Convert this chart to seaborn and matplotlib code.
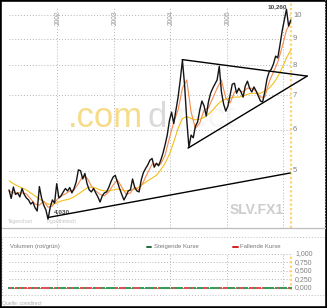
import numpy as np
import pandas as pd
import matplotlib
matplotlib.use("Agg")
import matplotlib.pyplot as plt
import matplotlib.transforms as mtransforms
from matplotlib.patches import Rectangle
from matplotlib.lines import Line2D
from matplotlib.ticker import NullLocator
import seaborn as sns

# ---------------- data ----------------
start_date = "2001-02-25"
price = [4.59, 4.42, 4.65, 4.50, 4.53, 4.45, 4.62, 4.50, 4.43, 4.39,
         4.31, 4.35, 4.24, 4.18, 4.66, 4.43, 4.29, 4.20, 4.03, 4.25,
         4.39, 4.33, 4.72, 4.43, 4.47, 4.55, 4.62, 4.57, 4.64, 4.53,
         4.62, 4.76, 5.02, 5.00, 4.82, 4.94, 4.72, 4.59, 4.55, 4.62,
         4.53, 4.45, 4.35, 4.47, 4.53, 4.55, 4.64, 4.76, 4.86, 4.90,
         4.76, 4.62, 4.50, 4.39, 4.47, 4.57, 4.59, 4.82, 4.64, 4.57,
         4.55, 4.80, 4.96, 5.05, 5.13, 5.24, 5.28, 5.08, 5.17, 5.11,
         5.24, 5.40, 5.61, 5.86, 6.25, 6.49, 6.17, 6.55, 6.94, 7.49,
         8.18, 7.32, 6.27, 5.55, 5.86, 5.79, 6.10, 6.21, 6.55, 6.82,
         6.67, 6.38, 6.79, 7.06, 7.22, 7.35, 7.49, 7.96, 7.10, 6.73,
         6.52, 6.67, 7.00, 7.35, 7.38, 7.06, 7.22, 7.10, 6.94, 7.29,
         7.45, 7.22, 7.10, 7.26, 7.13, 6.97, 6.82, 6.79, 7.10, 7.52,
         7.76, 7.86, 8.04, 8.33, 8.26, 8.75, 9.31, 9.78, 10.26, 9.52,
         9.78]
ma_short = [4.57, 4.53, 4.53, 4.53, 4.51, 4.41, 4.31, 4.29, 4.37, 4.25,
            4.27, 4.39, 4.47, 4.51, 4.57, 4.59, 4.72, 4.88, 4.84, 4.67,
            4.57, 4.50, 4.47, 4.55, 4.69, 4.80, 4.65, 4.50, 4.53, 4.65,
            4.59, 4.76, 4.96, 5.15, 5.15, 5.15, 5.36, 5.78, 6.21, 6.55,
            7.22, 7.49, 6.49, 6.04, 6.18, 6.55, 6.61, 6.91, 7.22, 7.49,
            6.91, 6.76, 7.10, 7.16, 7.10, 7.22, 7.22, 7.13, 6.94, 6.94,
            7.42, 7.76, 8.11, 8.67, 9.35, 9.69]
ma_long = [4.78, 4.72, 4.67, 4.63, 4.59, 4.53, 4.47, 4.41, 4.35, 4.31,
           4.31, 4.33, 4.37, 4.39, 4.41, 4.45, 4.51, 4.57, 4.63, 4.65,
           4.63, 4.59, 4.57, 4.57, 4.59, 4.61, 4.59, 4.57, 4.59, 4.61,
           4.65, 4.72, 4.78, 4.84, 4.90, 5.02, 5.17, 5.38, 5.68, 6.04,
           6.31, 6.36, 6.31, 6.27, 6.29, 6.34, 6.43, 6.55, 6.70, 6.82,
           6.88, 6.91, 6.94, 6.94, 6.97, 7.03, 7.06, 7.06, 7.06, 7.13,
           7.22, 7.38, 7.60, 7.90, 8.26, 8.56]

upper_dates = ["2004-03-20", "2006-06-05"]
upper_vals = [8.20, 7.62]
lower_dates = ["2004-04-26", "2006-06-05"]
lower_vals = [5.53, 7.62]
support_dates = ["2001-11-03", "2006-02-15"]
support_vals = [4.06, 4.95]

price_ticks = [10, 9, 8, 7, 6, 5]
year_labels = ["2002", "2003", "2004", "2005"]
grid_years = ["2002", "2003", "2004", "2005", "2006"]
vol_ticks = [1.0, 0.75, 0.5, 0.25, 0.0]
vol_tick_labels = ["1,000", "0,750", "0,500", "0,250", "0,000"]
high_label = "10,260"
low_label = "4,030"

# ---------------- frames ----------------
dates = pd.date_range(start_date, periods=len(price), freq="14D")
ma_dates = dates[::2]
df_price = pd.DataFrame({"date": dates, "value": price})
df_ma = pd.DataFrame({"date": ma_dates, "short": ma_short, "long": ma_long})
direction = ["Steigende Kurse"] + [
    "Steigende Kurse" if b >= a else "Fallende Kurse" for a, b in zip(price[:-1], price[1:])]
df_vol = pd.DataFrame({"date": dates, "vol": np.zeros(len(price)), "dir": direction})

# ---------------- style ----------------
sns.set_style("white")
plt.rcParams["font.family"] = ["Liberation Sans", "DejaVu Sans"]

W, H = 327, 308
fig = plt.figure(figsize=(W / 100, H / 100), dpi=100)
fig.patch.set_facecolor("white")

xlim = (pd.Timestamp("2001-01-17"), pd.Timestamp("2006-09-28"))
GRID = dict(color="#b4b4b4", lw=0.7, linestyle=(0, (1, 2)))
TXT = "#808080"

# ---------------- main panel ----------------
ax = fig.add_axes([3 / W, (H - 228) / H, 322 / W, 225 / H])
ax.set_facecolor("white")
ax.set_yscale("log")
ax.set_xlim(*xlim)
ax.set_ylim(3.875, 10.55)

ax.hlines(price_ticks, dates[0], dates[-1], zorder=0, **GRID)
ax.vlines([pd.Timestamp(y + "-01-01") for y in grid_years], 3.875, 10.3, zorder=0, **GRID)
ax.axvline(dates[-1], color="#ffd27a", lw=1.6, linestyle=(0, (1, 1)), zorder=0)

# watermark
ax.text(0.202, 0.449, ".com", transform=ax.transAxes, fontsize=25,
        color="#f6dc88", va="baseline", ha="left", zorder=0)
ax.text(0.450, 0.449, "d", transform=ax.transAxes, fontsize=25,
        color="#dadada", va="baseline", ha="left", zorder=0)
ax.text(0.516, 0.449, "irect", transform=ax.transAxes, fontsize=25,
        color="#f6f6f6", va="baseline", ha="left", zorder=0)
ax.text(0.705, 0.062, "SLV.FX1", transform=ax.transAxes, fontsize=10,
        fontweight="bold", color="#cdcdcd", va="baseline", ha="left", zorder=0)

sns.lineplot(data=df_ma, x="date", y="long", ax=ax, color="#f2c01a", lw=0.8, zorder=2)
sns.lineplot(data=df_ma, x="date", y="short", ax=ax, color="#f58a50", lw=0.8, zorder=3)
sns.lineplot(data=df_price, x="date", y="value", ax=ax, color="#151515", lw=1.0, zorder=4)

for dd, vv in [(upper_dates, upper_vals), (lower_dates, lower_vals), (support_dates, support_vals)]:
    sns.lineplot(x=pd.to_datetime(dd), y=vv, ax=ax, color="black", lw=1.0, zorder=5)

tr_y = mtransforms.blended_transform_factory(ax.transAxes, ax.transData)
for v in price_ticks:
    ax.text(0.9006, v, str(v), transform=tr_y, fontsize=5.5, color=TXT, va="center", ha="left")

tr_x = mtransforms.blended_transform_factory(ax.transData, ax.transAxes)
tr_x_off = mtransforms.offset_copy(tr_x, fig=fig, x=1.5, y=0, units="dots")
for y in year_labels:
    ax.text(pd.Timestamp(y + "-01-01"), 0.935, y, transform=tr_x_off, rotation=90,
            fontsize=4.8, color="#999999", va="center", ha="center")

ax.text(0.853, 0.982, high_label, transform=ax.transAxes, fontsize=4.6,
        fontweight="bold", color="#444444", va="center", ha="center")
ax.text(0.158, 0.072, low_label, transform=ax.transAxes, fontsize=4.6,
        fontweight="bold", color="#444444", va="center", ha="left")
ax.text(0.0155, 0.030, "Tageschart", transform=ax.transAxes, fontsize=3.6,
        color="#c4c4c4", va="center", ha="left")
ax.text(0.137, 0.030, "logarithmisch", transform=ax.transAxes, fontsize=3.6,
        color="#c4c4c4", va="center", ha="left")

ax.yaxis.set_minor_locator(NullLocator())
ax.set_yticks([])
ax.set_xticks([])
ax.set_xlabel("")
ax.set_ylabel("")
for s in ax.spines.values():
    s.set_visible(False)

# ---------------- volume panel ----------------
av = fig.add_axes([3 / W, (H - 295) / H, 322 / W, 58 / H])
av.set_xlim(*xlim)
av.set_ylim(-0.206, 1.5)
av.hlines([1.0, 0.75, 0.5, 0.25], dates[0], dates[-1], zorder=0, **GRID)
av.vlines([pd.Timestamp(y + "-01-01") for y in grid_years], 0, 1.0, zorder=0, **GRID)
av.axvline(dates[-1], ymin=0.086, ymax=0.707, color="#ffd27a", lw=1.6,
           linestyle=(0, (1, 1)), zorder=0)
av.plot([dates[0], dates[-1]], [0, 0], color="#9a9a9a", lw=0.8, zorder=1)
sns.scatterplot(data=df_vol, x="date", y="vol", hue="dir", ax=av, marker="s", s=2,
                linewidth=0, palette={"Steigende Kurse": "#3a9a5a", "Fallende Kurse": "#e05050"},
                legend=False, zorder=2)
tr_v = mtransforms.blended_transform_factory(av.transAxes, av.transData)
for v, lab in zip(vol_ticks, vol_tick_labels):
    av.text(0.907, v, lab, transform=tr_v, fontsize=5, color=TXT, va="center", ha="left")
av.text(0.0217, 0.828, "Volumen (rot/grün)", transform=av.transAxes, fontsize=4.3,
        color="#777777", va="center", ha="left")
av.plot([0.446, 0.460], [0.828, 0.828], transform=av.transAxes, color="#1f6b3a", lw=1.4)
av.text(0.469, 0.828, "Steigende Kurse", transform=av.transAxes, fontsize=4.3,
        color="#777777", va="center", ha="left")
av.plot([0.714, 0.729], [0.828, 0.828], transform=av.transAxes, color="#d42020", lw=1.4)
av.text(0.736, 0.828, "Fallende Kurse", transform=av.transAxes, fontsize=4.3,
        color="#777777", va="center", ha="left")
av.set_xticks([])
av.set_yticks([])
av.set_xlabel("")
av.set_ylabel("")
for s in av.spines.values():
    s.set_visible(False)

# ---------------- frames & footer ----------------
fig.add_artist(Line2D([2 / W, 325 / W], [(H - 228) / H] * 2, color="#bdbdbd", lw=0.9))
fig.add_artist(Line2D([324.5 / W] * 2, [(H - 228) / H, 1], color="#bdbdbd", lw=0.7,
                      linestyle=(0, (1, 2))))
fig.add_artist(Rectangle((2 / W, (H - 295) / H), 323 / W, 58 / H, transform=fig.transFigure,
                         fill=False, ec="#bdbdbd", lw=0.7, linestyle=(0, (1, 2))))
fig.text(2 / W, (H - 303) / H, "Quelle: comdirect", fontsize=3.6, color="#b0b0b0",
         va="center", ha="left")
fig.add_artist(Rectangle((0, 0), 1, 1, transform=fig.transFigure, fill=False,
                         ec="black", lw=2.6))

fig.savefig("out.png", dpi=100)
